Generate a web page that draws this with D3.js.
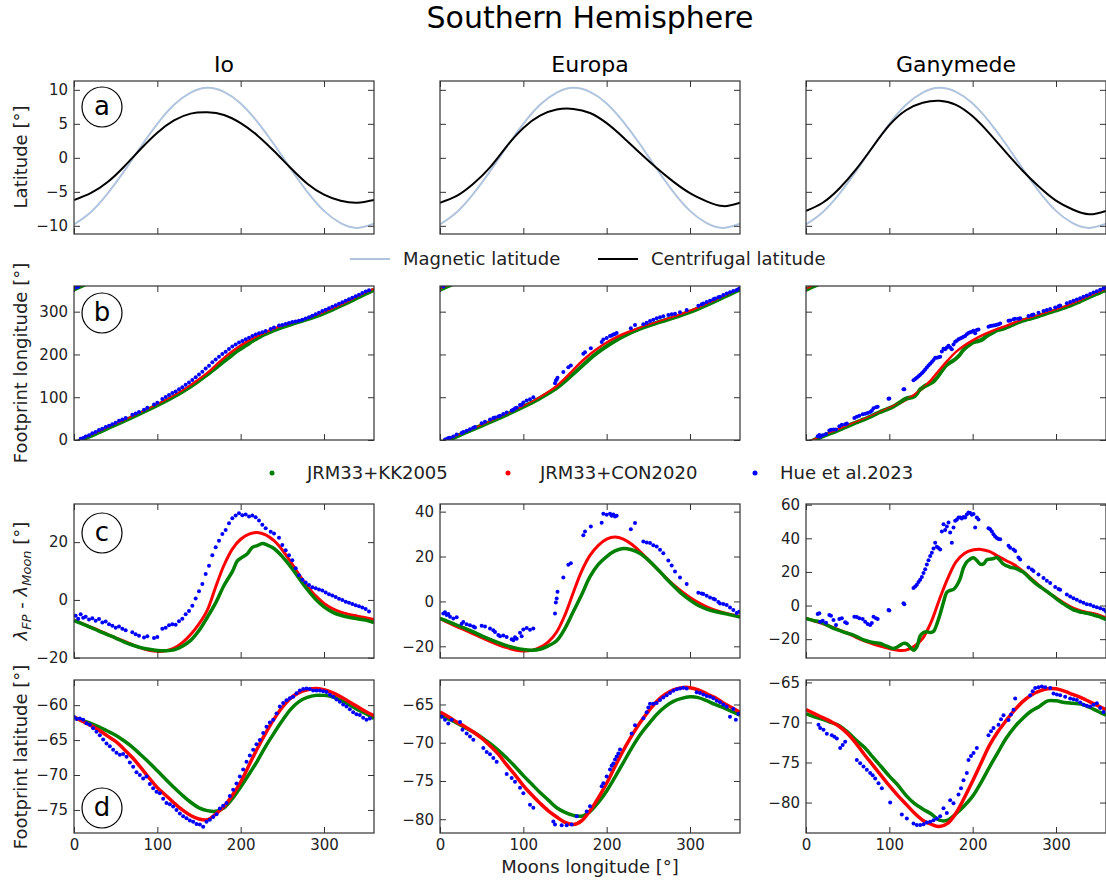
<!DOCTYPE html>
<html><head><meta charset="utf-8">
<script src="https://cdn.jsdelivr.net/npm/d3@7"></script>
<style>body{margin:0;background:#fff}svg{font-family:"DejaVu Sans",sans-serif}</style>
</head><body>
<svg id="chart" width="1106" height="882"></svg>
<script>
// ---------------- DATA ----------------
const moonNames = ["Io", "Europa", "Ganymede"];
const lonTicks = [0, 100, 200, 300];
const latTicks = [-10, -5, 0, 5, 10];
const fpLonTicks = [0, 100, 200, 300];
const legendA = ["Magnetic latitude", "Centrifugal latitude"];
const legendB = ["JRM33+KK2005", "JRM33+CON2020", "Hue et al.2023"];

// Row a: magnetic latitude (same for all moons) and centrifugal latitude
const magLat = [[0,-9.8],[20,-8.0],[40,-5.3],[60,-2.0],[80,1.6],[100,5.0],[120,7.8],[140,9.6],[160,10.3],[180,9.7],[200,8.0],[220,5.3],[240,2.0],[260,-1.6],[280,-5.0],[300,-7.8],[320,-9.6],[340,-10.3],[360,-9.7]];
const ioCf = [[0,-6.2],[20,-5.2],[40,-3.6],[60,-1.3],[80,1.3],[100,3.7],[120,5.5],[140,6.5],[160,6.7],[180,6.3],[200,5.1],[220,3.3],[240,1.0],[260,-1.5],[280,-3.8],[300,-5.4],[320,-6.3],[340,-6.6],[360,-6.2]];
const euCf = [[0,-6.6],[20,-5.6],[40,-3.8],[60,-1.4],[80,1.7],[100,4.4],[120,6.2],[140,7.1],[160,7.2],[180,6.6],[200,5.1],[220,3.0],[240,0.7],[260,-1.5],[280,-3.5],[300,-5.2],[320,-6.4],[340,-7.1],[360,-6.6]];
const gaCf = [[0,-7.8],[20,-6.6],[40,-4.5],[60,-1.7],[80,1.6],[100,4.8],[120,7.0],[140,8.1],[160,8.4],[180,7.8],[200,6.1],[220,3.6],[240,0.8],[260,-1.9],[280,-4.3],[300,-6.3],[320,-7.6],[340,-8.3],[360,-7.8]];

// Row c: lambda_FP - lambda_Moon
const ioKkC = [[0,-7.2],[10,-8.3],[20,-9.5],[30,-10.8],[40,-12.0],[50,-13.2],[60,-14.5],[70,-15.6],[80,-16.5],[90,-17.1],[100,-17.5],[110,-17.6],[120,-17.3],[130,-16.0],[140,-14.0],[150,-10.6],[160,-6.0],[170,-1.0],[180,5.0],[190,9.8],[196,13.5],[202,14.8],[208,16.0],[214,18.2],[220,18.8],[226,19.5],[232,19.0],[240,17.8],[250,15.0],[260,11.5],[270,7.5],[280,3.6],[290,0.2],[300,-2.4],[310,-4.2],[320,-5.3],[330,-6.0],[340,-6.5],[350,-7.0],[360,-7.8]];
const ioConC = [[0,-7.0],[10,-8.2],[20,-9.4],[30,-10.6],[40,-11.9],[50,-13.1],[60,-14.3],[70,-15.5],[80,-16.6],[90,-17.4],[100,-17.8],[110,-17.6],[120,-16.7],[130,-14.8],[140,-12.0],[150,-8.3],[160,-3.5],[170,4.5],[180,12.0],[190,17.6],[200,21.0],[210,22.8],[220,23.3],[230,22.5],[240,20.5],[250,17.3],[260,13.2],[270,8.8],[280,4.8],[290,1.4],[300,-1.2],[310,-3.0],[320,-4.2],[330,-5.0],[340,-5.6],[350,-6.2],[360,-6.8]];
const ioHueC = [[2,-5.5],[5,-6.5],[8,-5.0],[11,-6.2],[14,-5.8],[18,-6.8],[22,-6.3],[26,-7.2],[30,-6.6],[34,-7.8],[38,-7.5],[42,-8.4],[46,-8.9],[50,-9.6],[54,-9.2],[58,-10.0],[62,-10.5],[70,-11.2],[74,-11.9],[78,-12.4],[84,-13.0],[88,-12.6],[96,-13.2],[100,-12.8],[106,-10.0],[110,-9.6],[114,-8.8],[118,-8.4],[122,-8.6],[126,-7.4],[130,-6.5],[134,-5.0],[138,-3.8],[142,-2.0],[146,0.5],[150,3.0],[154,5.5],[158,9.0],[162,11.8],[166,15.5],[170,18.2],[174,20.5],[178,22.8],[182,24.2],[186,26.5],[190,28.3],[194,29.2],[198,30.0],[202,29.3],[206,29.6],[210,28.9],[214,29.2],[218,28.6],[222,27.5],[226,26.0],[230,24.8],[236,23.6],[240,23.0],[246,21.5],[250,19.0],[254,17.2],[258,15.5],[262,13.7],[266,11.0],[270,8.5],[274,7.0],[278,6.0],[282,5.2],[286,4.4],[290,4.0],[294,3.6],[298,3.3],[302,2.6],[306,2.0],[310,1.5],[314,1.0],[318,0.4],[322,0.0],[326,-0.6],[330,-1.0],[334,-1.4],[338,-1.8],[342,-2.2],[346,-2.6],[350,-3.1],[354,-4.0]];

const euKkC = [[0,-7.6],[10,-9.0],[20,-10.5],[30,-12.0],[40,-13.6],[50,-15.3],[60,-16.9],[70,-18.4],[80,-19.7],[90,-20.7],[100,-21.4],[110,-21.7],[120,-21.3],[130,-19.8],[140,-17.5],[150,-12.0],[160,-4.5],[170,3.0],[180,11.0],[190,16.5],[200,20.0],[210,22.5],[220,23.6],[230,23.0],[240,21.4],[250,18.4],[260,14.8],[270,10.8],[280,7.0],[290,3.5],[300,0.6],[310,-1.8],[320,-3.4],[330,-4.5],[340,-5.3],[350,-6.1],[360,-7.0]];
const euConC = [[0,-7.6],[10,-9.5],[20,-11.2],[30,-12.8],[40,-14.4],[50,-16.1],[60,-17.8],[70,-19.3],[80,-20.6],[90,-21.6],[100,-22.1],[110,-21.8],[120,-20.5],[130,-18.0],[140,-13.6],[150,-6.0],[160,4.0],[170,13.5],[180,20.5],[190,25.0],[200,27.8],[210,28.7],[220,27.8],[230,25.5],[240,22.2],[250,18.5],[260,14.8],[270,11.0],[280,7.5],[290,4.5],[300,1.8],[310,-0.5],[320,-2.4],[330,-3.9],[340,-5.0],[350,-5.9],[360,-6.6]];
const euHueC = [[4,-5.4],[6,-4.8],[8,-6.1],[10,-5.6],[12,-6.8],[16,-7.6],[20,-7.0],[26,-9.9],[28,-9.2],[32,-10.2],[36,-10.6],[40,-11.2],[42,-11.6],[50,-10.8],[54,-11.2],[60,-12.1],[64,-12.8],[66,-13.6],[70,-15.0],[72,-15.5],[76,-15.2],[80,-15.8],[86,-16.8],[88,-17.3],[90,-16.0],[92,-16.6],[96,-14.0],[98,-15.5],[100,-12.5],[104,-11.8],[108,-12.6],[112,-12.1],[138,-5.4],[139,-0.5],[140,1.3],[141,4.3],[148,10.7],[154,16.3],[157,17.0],[172,29.5],[174,31.2],[181,33.4],[194,35.0],[196,39.1],[200,38.6],[204,39.1],[206,38.2],[208,38.7],[210,37.8],[212,38.2],[229,32.2],[234,34.9],[244,26.7],[248,26.2],[252,26.0],[256,25.0],[260,24.5],[264,23.0],[268,21.5],[274,18.2],[278,16.0],[282,13.3],[288,10.7],[296,7.8],[310,3.9],[314,3.5],[316,3.3],[320,2.5],[324,1.8],[328,1.2],[330,0.9],[334,-0.2],[336,-0.9],[340,-1.2],[344,-1.6],[348,-2.7],[352,-3.8],[356,-5.1],[359,-4.6]];

const gaKkC = [[0,-7.6],[5,-8.4],[10,-9.0],[17,-9.8],[25,-11.5],[33,-13.6],[40,-14.8],[45,-15.8],[50,-16.5],[57,-17.6],[63,-19.0],[69,-20.4],[75,-21.3],[81,-22.0],[85,-22.2],[89,-22.6],[93,-23.4],[97,-24.2],[101,-25.0],[105,-25.6],[109,-24.8],[113,-23.6],[117,-22.5],[121,-22.8],[125,-24.8],[129,-26.6],[133,-24.6],[137,-18.0],[141,-16.0],[145,-15.6],[149,-16.0],[153,-15.4],[157,-11.0],[161,-5.0],[165,2.0],[169,7.8],[173,9.0],[177,9.6],[181,12.0],[185,16.0],[189,22.5],[193,26.0],[197,27.6],[201,28.4],[205,26.8],[209,24.6],[213,24.8],[217,27.2],[221,27.6],[225,28.0],[229,28.6],[233,26.8],[237,24.6],[241,23.6],[245,22.8],[249,22.4],[253,21.8],[257,20.8],[261,19.8],[265,18.0],[269,16.0],[273,14.2],[277,12.6],[281,11.2],[285,9.8],[289,8.4],[293,7.0],[297,5.4],[301,3.8],[305,2.4],[309,1.0],[313,-0.2],[317,-1.4],[321,-2.6],[325,-3.2],[329,-3.8],[333,-4.2],[337,-4.6],[341,-5.0],[345,-5.6],[349,-6.2],[353,-6.8],[357,-7.6],[360,-8.4]];
const gaConC = [[0,-7.6],[10,-9.2],[20,-10.8],[30,-12.6],[40,-14.6],[50,-16.6],[60,-18.9],[70,-21.0],[80,-22.8],[90,-24.3],[100,-25.6],[110,-26.6],[120,-26.5],[130,-24.2],[140,-19.5],[150,-10.0],[160,3.5],[170,16.0],[180,26.0],[190,31.0],[200,33.0],[210,33.4],[220,32.2],[230,29.5],[240,26.8],[250,24.2],[260,20.5],[270,16.2],[280,11.8],[290,8.0],[300,4.6],[310,1.3],[320,-1.4],[330,-3.2],[340,-4.3],[350,-5.5],[360,-7.4]];
const gaHueC = [[14,-5.0],[16,-4.6],[17,-9.6],[20,-9.0],[24,-10.2],[28,-5.6],[30,-6.0],[33,-8.6],[36,-11.6],[40,-8.0],[43,-7.6],[47,-10.0],[49,-10.6],[58,-6.6],[61,-6.8],[64,-7.6],[68,-8.0],[71,-9.6],[74,-11.0],[77,-11.6],[79,-10.4],[81,-6.6],[84,-7.6],[86,-8.0],[99,-2.6],[100,-3.0],[117,1.4],[118,0.8],[129,10.4],[131,11.4],[133,12.4],[135,14.0],[137,15.4],[139,17.0],[141,19.4],[143,21.6],[145,24.4],[147,27.0],[149,29.5],[151,31.4],[153,34.0],[155,37.4],[157,35.0],[159,34.2],[161,33.4],[163,44.0],[165,48.4],[167,45.0],[169,47.0],[171,49.4],[173,43.4],[175,37.4],[177,46.4],[179,50.4],[181,51.0],[183,52.4],[185,52.4],[187,51.8],[189,52.6],[191,52.4],[193,54.2],[195,55.4],[197,55.0],[199,54.0],[201,54.4],[203,46.4],[205,52.4],[207,51.2],[219,46.0],[221,45.4],[223,44.0],[225,42.4],[227,41.0],[229,40.2],[231,39.6],[233,39.4],[243,35.6],[245,34.4],[249,33.4],[251,32.4],[255,28.6],[257,27.4],[267,22.6],[271,21.4],[273,20.6],[279,18.4],[285,16.4],[289,14.8],[293,13.4],[299,11.0],[303,9.8],[305,9.4],[313,6.6],[317,5.4],[321,4.4],[325,3.4],[329,2.4],[333,1.6],[337,0.8],[341,0.4],[345,-0.4],[349,-1.0],[353,-1.6],[357,-2.4],[360,-3.6]];

// Row d: footprint latitude
const ioKkD = [[0,-61.7],[10,-62.2],[20,-62.6],[30,-63.1],[40,-63.7],[50,-64.3],[60,-65.1],[70,-66.0],[80,-67.1],[90,-68.2],[100,-69.4],[110,-70.6],[120,-71.8],[130,-72.9],[140,-73.9],[150,-74.7],[160,-75.1],[170,-75.2],[180,-74.7],[190,-73.4],[200,-71.7],[210,-69.9],[220,-68.0],[230,-65.9],[240,-64.0],[250,-62.2],[260,-60.6],[270,-59.5],[280,-58.9],[290,-58.6],[300,-58.6],[310,-58.8],[320,-59.3],[330,-59.9],[340,-60.6],[350,-61.2],[360,-61.9]];
const ioConD = [[0,-61.7],[10,-62.3],[20,-62.9],[30,-63.6],[40,-64.4],[50,-65.2],[60,-66.3],[70,-67.5],[80,-68.9],[90,-70.4],[100,-71.8],[110,-72.9],[120,-74.0],[130,-75.0],[140,-75.8],[150,-76.3],[160,-76.4],[170,-75.6],[180,-74.5],[190,-72.9],[200,-71.0],[210,-68.6],[220,-66.2],[230,-64.0],[240,-62.0],[250,-60.3],[260,-59.0],[270,-58.2],[280,-57.8],[290,-57.6],[300,-57.8],[310,-58.2],[320,-58.8],[330,-59.5],[340,-60.2],[350,-60.9],[360,-61.5]];
const ioHueD = [[0,-61.7],[3,-62.0],[7,-61.9],[11,-62.1],[15,-62.6],[19,-62.8],[23,-63.3],[27,-63.8],[31,-64.3],[35,-64.9],[39,-65.5],[43,-65.9],[47,-66.4],[51,-66.8],[55,-67.1],[59,-67.0],[63,-67.4],[67,-68.2],[71,-68.8],[75,-69.6],[79,-70.0],[83,-70.5],[87,-70.2],[91,-71.3],[95,-71.9],[99,-72.4],[103,-72.6],[107,-73.4],[111,-74.0],[115,-74.2],[119,-74.5],[123,-75.0],[127,-75.5],[131,-75.9],[135,-76.2],[139,-76.5],[143,-76.7],[147,-77.0],[151,-77.1],[155,-77.4],[159,-76.7],[163,-76.4],[167,-76.0],[171,-75.6],[175,-74.8],[179,-74.4],[183,-74.0],[187,-73.0],[191,-72.1],[195,-71.2],[199,-70.2],[203,-69.2],[207,-68.1],[211,-67.2],[215,-66.4],[219,-65.6],[223,-65.0],[227,-64.0],[231,-63.1],[235,-62.5],[239,-62.1],[243,-61.2],[247,-60.2],[251,-59.7],[255,-59.3],[259,-59.0],[263,-58.8],[267,-58.3],[271,-57.9],[275,-57.7],[279,-57.6],[283,-57.7],[287,-57.9],[291,-57.9],[295,-57.9],[299,-58.0],[303,-58.1],[307,-58.5],[311,-58.8],[315,-59.2],[319,-59.5],[323,-59.9],[327,-60.2],[331,-60.6],[335,-61.0],[339,-61.3],[343,-61.4],[347,-61.8],[351,-62.1],[355,-61.9]];

const euKkD = [[0,-66.4],[10,-66.9],[20,-67.4],[30,-68.0],[40,-68.6],[50,-69.3],[60,-70.1],[70,-71.0],[80,-72.0],[90,-73.1],[100,-74.3],[110,-75.4],[120,-76.5],[130,-77.5],[140,-78.5],[150,-79.1],[160,-79.5],[170,-79.6],[180,-79.0],[190,-77.8],[200,-76.3],[210,-74.5],[220,-72.6],[230,-70.7],[240,-69.0],[250,-67.6],[260,-66.3],[270,-65.3],[280,-64.6],[290,-64.2],[300,-64.0],[310,-64.1],[320,-64.5],[330,-65.0],[340,-65.4],[350,-65.9],[360,-66.4]];
const euConD = [[0,-66.0],[10,-66.6],[20,-67.3],[30,-67.9],[40,-68.6],[50,-69.4],[60,-70.4],[70,-71.5],[80,-72.9],[90,-74.2],[100,-75.6],[110,-76.8],[120,-77.9],[130,-78.9],[140,-79.7],[150,-80.4],[160,-80.7],[170,-80.2],[180,-78.9],[190,-77.2],[200,-75.3],[210,-73.1],[220,-71.0],[230,-69.1],[240,-67.4],[250,-65.9],[260,-64.6],[270,-63.7],[280,-63.1],[290,-62.8],[300,-62.8],[310,-63.1],[320,-63.6],[330,-64.1],[340,-64.8],[350,-65.4],[360,-66.0]];
const euHueD = [[2,-66.6],[6,-67.0],[10,-67.5],[14,-67.0],[24,-67.3],[27,-68.3],[32,-68.8],[36,-69.2],[40,-69.6],[52,-70.7],[56,-71.2],[60,-71.5],[64,-72.0],[68,-72.5],[80,-74.1],[86,-74.6],[90,-75.1],[96,-75.9],[100,-76.6],[108,-78.1],[112,-78.5],[136,-80.3],[138,-80.7],[146,-80.8],[152,-80.8],[158,-80.7],[164,-79.6],[176,-79.0],[180,-78.3],[194,-75.7],[196,-75.3],[200,-74.4],[204,-73.5],[206,-73.0],[208,-72.7],[210,-72.2],[212,-71.8],[214,-71.4],[216,-70.9],[230,-68.8],[234,-67.7],[244,-66.8],[248,-66.0],[250,-65.4],[252,-64.9],[256,-64.9],[260,-64.8],[264,-64.4],[268,-64.1],[272,-63.8],[276,-63.5],[280,-63.2],[284,-63.0],[288,-62.9],[292,-62.8],[296,-62.9],[308,-63.4],[312,-63.5],[316,-63.7],[320,-63.9],[324,-64.0],[328,-64.2],[332,-64.5],[336,-64.7],[340,-65.0],[344,-65.3],[348,-66.6],[352,-65.6],[355,-67.0],[358,-66.2]];

const gaKkD = [[0,-68.9],[10,-69.3],[20,-69.6],[30,-70.0],[40,-70.4],[50,-71.2],[60,-72.2],[70,-73.1],[80,-74.3],[90,-75.5],[100,-76.7],[110,-77.8],[120,-79.1],[130,-80.1],[140,-80.8],[150,-81.4],[160,-82.2],[170,-82.2],[180,-81.4],[190,-80.4],[200,-79.2],[210,-77.5],[220,-75.6],[230,-73.8],[240,-72.0],[250,-70.6],[260,-69.5],[270,-68.6],[280,-68.0],[290,-67.3],[300,-67.3],[310,-67.5],[320,-67.6],[330,-67.7],[340,-68.1],[350,-68.6],[360,-69.1]];
const gaConD = [[0,-68.4],[10,-68.9],[20,-69.4],[30,-69.9],[40,-70.5],[50,-71.4],[60,-72.6],[70,-74.0],[80,-75.3],[90,-76.6],[100,-77.9],[110,-79.1],[120,-80.2],[130,-81.3],[140,-82.2],[150,-82.7],[160,-83.0],[170,-82.6],[180,-81.3],[190,-79.4],[200,-77.3],[210,-75.1],[220,-72.9],[230,-71.2],[240,-69.8],[250,-68.5],[260,-67.4],[270,-66.6],[280,-66.1],[290,-65.8],[300,-65.8],[310,-66.1],[320,-66.5],[330,-66.9],[340,-67.4],[350,-67.9],[360,-68.4]];
const gaHueD = [[15,-70.3],[17,-70.7],[21,-70.9],[25,-71.4],[31,-71.6],[34,-71.8],[37,-72.0],[41,-73.2],[44,-72.8],[47,-72.4],[61,-74.7],[65,-75.1],[69,-75.5],[73,-75.9],[77,-76.3],[80,-76.6],[83,-77.0],[87,-77.6],[91,-78.2],[101,-80.0],[115,-81.5],[121,-82.0],[129,-82.6],[133,-82.8],[137,-82.8],[141,-82.7],[145,-82.5],[149,-82.4],[153,-82.2],[157,-82.0],[161,-81.7],[165,-80.7],[169,-81.3],[173,-79.7],[177,-80.1],[183,-79.0],[186,-78.2],[189,-77.2],[193,-76.3],[195,-74.7],[198,-74.2],[201,-73.8],[205,-73.2],[219,-71.6],[222,-71.1],[225,-70.7],[231,-70.3],[234,-69.6],[237,-69.1],[243,-69.7],[246,-69.0],[249,-68.4],[251,-67.0],[269,-66.6],[272,-66.1],[275,-65.7],[279,-65.6],[283,-65.5],[287,-65.6],[293,-65.7],[297,-66.4],[301,-66.5],[305,-66.6],[311,-66.8],[317,-67.0],[321,-67.1],[325,-67.2],[329,-67.5],[333,-67.8],[337,-67.9],[341,-68.0],[345,-67.8],[349,-67.6],[353,-68.2],[357,-68.7]];

// per-moon tick labels for rows c and d
const ioTicksC = [-20, 0, 20],  euTicksC = [-20, 0, 20, 40],  gaTicksC = [-20, 0, 20, 40, 60];
const ioTicksD = [-75, -70, -65, -60], euTicksD = [-80, -75, -70, -65], gaTicksD = [-80, -75, -70, -65];

// ---------------- LAYOUT / STYLE ----------------
const colX = [74, 440, 806], W = 300;
const rowY = {a: [81, 234], b: [286, 440], c: [504, 658], d: [680, 833]};
const domA = [-11.2, 11.3], domB = [0, 360];
const domC = [[-20.1, 33.2], [-25.2, 43.4], [-31.2, 60.4]];
const domD = [[-78.3, -56.4], [-81.8, -61.8], [-83.8, -64.7]];
const C = {mag: "#b0c4de", cf: "#000", kk: "#008000", con: "#ff0000", hue: "#0000ff", frame: "#333", text: "#222"};

const moons = [
  {cf: ioCf, kkC: ioKkC, conC: ioConC, hueC: ioHueC, kkD: ioKkD, conD: ioConD, hueD: ioHueD, tC: ioTicksC, tD: ioTicksD},
  {cf: euCf, kkC: euKkC, conC: euConC, hueC: euHueC, kkD: euKkD, conD: euConD, hueD: euHueD, tC: euTicksC, tD: euTicksD},
  {cf: gaCf, kkC: gaKkC, conC: gaConC, hueC: gaHueC, kkD: gaKkD, conD: gaConD, hueD: gaHueD, tC: gaTicksC, tD: gaTicksD}
];

const svg = d3.select("#chart");
const defs = svg.append("defs");
let clipId = 0;

function panel(ci, row, yDomain, yTicks, showYLabels, showXLabels) {
  const x0 = colX[ci], [y0, y1] = rowY[row];
  const x = d3.scaleLinear().domain([0, 360]).range([x0, x0 + W]);
  const y = d3.scaleLinear().domain(yDomain).range([y1, y0]);
  const id = "clip" + (clipId++);
  defs.append("clipPath").attr("id", id).append("rect")
    .attr("x", x0).attr("y", y0).attr("width", W).attr("height", y1 - y0);
  const g = svg.append("g");
  const plot = g.append("g").attr("clip-path", `url(#${id})`);
  const fmt = d => d3.format("")(d);
  const ax = (axis, tx, ty, labels) => {
    const a = g.append("g").attr("transform", `translate(${tx},${ty})`).call(axis);
    a.select(".domain").remove();
    a.selectAll(".tick line").attr("stroke", C.frame).attr("stroke-width", 1);
    a.selectAll("text").attr("font-size", 15).attr("fill", C.text)
      .attr("font-family", "DejaVu Sans").style("display", labels ? null : "none");
    return a;
  };
  ax(d3.axisBottom(x).tickValues(lonTicks).tickSize(-6).tickPadding(6).tickFormat(fmt), 0, y1, showXLabels);
  ax(d3.axisTop(x).tickValues(lonTicks).tickSize(-6).tickFormat(fmt), 0, y0, false);
  ax(d3.axisLeft(y).tickValues(yTicks).tickSize(-6).tickPadding(6).tickFormat(fmt), x0, 0, showYLabels);
  ax(d3.axisRight(y).tickValues(yTicks).tickSize(-6).tickFormat(fmt), x0 + W, 0, false);
  const frame = () => g.append("rect").attr("x", x0).attr("y", y0).attr("width", W).attr("height", y1 - y0)
    .attr("fill", "none").attr("stroke", C.frame).attr("stroke-width", 1.2);
  return {x, y, plot, frame};
}

const lineGen = (x, y, curve = d3.curveCatmullRom.alpha(0.5)) => d3.line().x(d => x(d[0])).y(d => y(d[1])).curve(curve);
const fpLon = d => { let v = d[0] + d[1]; if (v < 0) v += 360; if (v > 360) v -= 360; return v; };

moons.forEach((m, ci) => {
  // row a
  let p = panel(ci, "a", domA, latTicks, ci === 0, false);
  p.plot.append("path").datum(magLat).attr("d", lineGen(p.x, p.y, d3.curveNatural)).attr("fill", "none").attr("stroke", C.mag).attr("stroke-width", 2);
  p.plot.append("path").datum(m.cf).attr("d", lineGen(p.x, p.y, d3.curveNatural)).attr("fill", "none").attr("stroke", C.cf).attr("stroke-width", 2);
  p.frame();

  // row b: footprint longitude = moon longitude + lag (wrapped)
  p = panel(ci, "b", domB, fpLonTicks, ci === 0, false);
  const bLine = (data, shift) => d3.line().x(d => p.x(d[0])).y(d => p.y(d[0] + d[1] + shift)).curve(d3.curveCatmullRom.alpha(0.5))(data);
  [[m.kkC, C.kk, 3.5], [m.conC, C.con, 2.5]].forEach(([data, col, w]) => {
    [0, 360].forEach(s => p.plot.append("path").attr("d", bLine(data, s)).attr("fill", "none").attr("stroke", col).attr("stroke-width", w));
  });
  [0, 360].forEach(s => p.plot.append("path").attr("d", bLine(m.kkC, s)).attr("fill", "none").attr("stroke", C.kk).attr("stroke-width", 2.2).attr("transform", "translate(0,1.5)"));
  p.plot.selectAll(null).data(m.hueC).join("circle").attr("cx", d => p.x(d[0])).attr("cy", d => p.y(fpLon(d)))
    .attr("r", 2).attr("fill", C.hue);
  p.frame();

  // row c
  p = panel(ci, "c", domC[ci], m.tC, true, false);
  p.plot.append("path").datum(m.conC).attr("d", lineGen(p.x, p.y)).attr("fill", "none").attr("stroke", C.con).attr("stroke-width", 3);
  p.plot.append("path").datum(m.kkC).attr("d", lineGen(p.x, p.y)).attr("fill", "none").attr("stroke", C.kk).attr("stroke-width", 3.5);
  p.plot.selectAll(null).data(m.hueC).join("circle").attr("cx", d => p.x(d[0])).attr("cy", d => p.y(d[1]))
    .attr("r", 2).attr("fill", C.hue);
  p.frame();

  // row d
  p = panel(ci, "d", domD[ci], m.tD, true, true);
  p.plot.append("path").datum(m.kkD).attr("d", lineGen(p.x, p.y)).attr("fill", "none").attr("stroke", C.kk).attr("stroke-width", 3.5);
  p.plot.append("path").datum(m.conD).attr("d", lineGen(p.x, p.y)).attr("fill", "none").attr("stroke", C.con).attr("stroke-width", 3.5);
  p.plot.selectAll(null).data(m.hueD).join("circle").attr("cx", d => p.x(d[0])).attr("cy", d => p.y(d[1]))
    .attr("r", 2).attr("fill", C.hue);
  p.frame();
});

// panel letters
[["a", 107], ["b", 313], ["c", 533], ["d", 808]].forEach(([t, cy]) => {
  svg.append("circle").attr("cx", 102).attr("cy", cy).attr("r", 20).attr("fill", "#fff").attr("stroke", "#000").attr("stroke-width", 1.2);
  svg.append("text").attr("x", 102).attr("y", cy + 8).attr("text-anchor", "middle").attr("font-size", 26).attr("fill", "#000").text(t);
});

// titles
svg.append("text").attr("x", 590).attr("y", 28).attr("text-anchor", "middle").attr("font-size", 30).attr("fill", "#000").text("Southern Hemisphere");
moonNames.forEach((n, i) => svg.append("text").attr("x", colX[i] + W / 2).attr("y", 72).attr("text-anchor", "middle").attr("font-size", 22).attr("fill", "#000").text(n));

// y labels
const ylab = (cy, txt) => svg.append("text").attr("transform", `translate(27,${cy}) rotate(-90)`).attr("text-anchor", "middle").attr("font-size", 18).attr("fill", C.text).text(txt);
ylab(157, "Latitude [°]");
ylab(363, "Footprint longitude [°]");
ylab(757, "Footprint latitude [°]");
const lc = svg.append("text").attr("transform", "translate(27,581) rotate(-90)").attr("text-anchor", "middle").attr("font-size", 18).attr("fill", C.text);
lc.append("tspan").attr("font-style", "italic").text("λ");
lc.append("tspan").attr("font-style", "italic").attr("font-size", 13).attr("baseline-shift", "-4").text("FP");
lc.append("tspan").text(" - ");
lc.append("tspan").attr("font-style", "italic").text("λ");
lc.append("tspan").attr("font-style", "italic").attr("font-size", 13).attr("baseline-shift", "-4").text("Moon");
lc.append("tspan").text(" [°]");

// x label
svg.append("text").attr("x", 590).attr("y", 873).attr("text-anchor", "middle").attr("font-size", 18).attr("fill", C.text).text("Moons longitude [°]");

// legend a
[[350, 403, C.mag, legendA[0]], [598, 651, C.cf, legendA[1]]].forEach(([lx, tx, col, t]) => {
  svg.append("line").attr("x1", lx).attr("x2", lx + 40).attr("y1", 259).attr("y2", 259).attr("stroke", col).attr("stroke-width", 2);
  svg.append("text").attr("x", tx).attr("y", 265).attr("font-size", 18).attr("fill", C.text).text(t);
});
// legend b
[[272, 307, C.kk, legendB[0]], [508, 540, C.con, legendB[1]], [755, 780, C.hue, legendB[2]]].forEach(([cx, tx, col, t]) => {
  svg.append("circle").attr("cx", cx).attr("cy", 473).attr("r", 2.5).attr("fill", col);
  svg.append("text").attr("x", tx).attr("y", 479).attr("font-size", 18).attr("fill", C.text).text(t);
});
</script>
</body></html>
